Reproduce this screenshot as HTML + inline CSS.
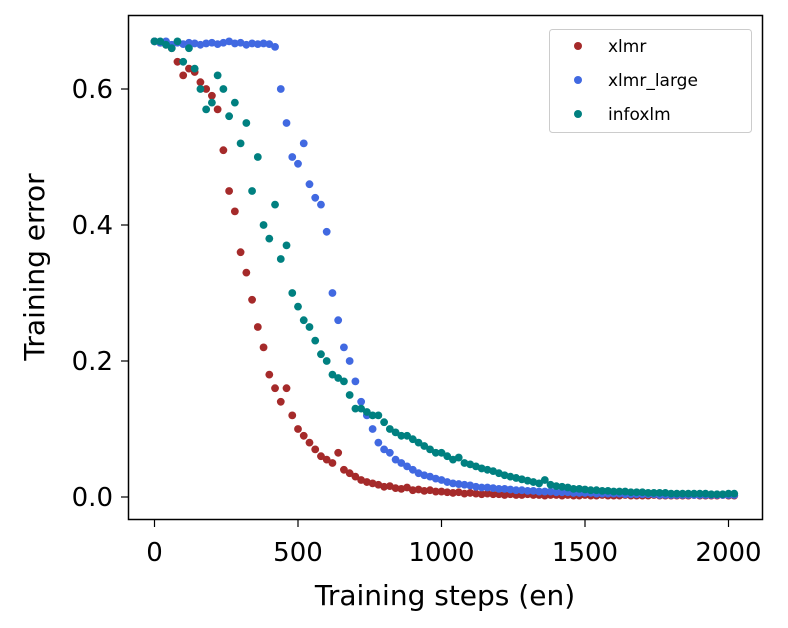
<!DOCTYPE html>
<html><head><meta charset="utf-8"><style>
body{margin:0;background:#fff;}
svg{display:block;font-family:"DejaVu Sans","Liberation Sans",sans-serif;}
</style></head><body>
<svg id="chart" width="788" height="628">
<g id="marks"></g>
<rect x="128.5" y="15.5" width="634" height="504" fill="none" stroke="#000" stroke-width="1.5"/>
<g id="axes"></g>
<text x="445" y="605" font-size="28" text-anchor="middle">Training steps (en)</text>
<text transform="translate(44,267) rotate(-90)" font-size="28" text-anchor="middle">Training error</text>
<g>
<rect x="549.5" y="29.5" width="202" height="103" rx="3" fill="#fff" stroke="#ccc"/>
<g><circle cx="578" cy="46" r="4" fill="#a52a2a"/><text x="608" y="52" font-size="17">xlmr</text></g>
<g><circle cx="578" cy="80" r="4" fill="#4169e1"/><text x="608" y="86" font-size="17">xlmr_large</text></g>
<g><circle cx="578" cy="114" r="4" fill="#008080"/><text x="608" y="120" font-size="17">infoxlm</text></g>
</g>
</svg>
<script>
const xlmr=[0.67,0.668,0.665,0.66,0.64,0.62,0.63,0.625,0.61,0.6,0.59,0.57,0.51,0.45,0.42,0.36,0.33,0.29,0.25,0.22,0.18,0.16,0.14,0.16,0.12,0.10,0.09,0.08,0.07,0.06,0.055,0.05,0.065,0.04,0.035,0.03,0.025,0.022,0.02,0.018,0.015,0.016,0.013,0.012,0.014,0.01,0.011,0.009,0.01,0.008,0.008,
0.007,0.006,0.007,0.005,0.006,0.005,0.004,0.005,0.004,0.004,0.003,0.004,0.003,0.003,0.004,0.003,0.003,0.002,0.003,0.003,0.002,0.003,0.002,0.002,0.003,0.002,0.002,0.003,0.002,0.002,0.002,0.003,0.002,0.002,0.002,0.002,0.003,0.002,0.002,0.002,0.002,0.002,0.002,0.003,0.002,0.002,0.002,0.002,0.003,0.002,0.002];
const xlmrLarge=[0.67,0.668,0.67,0.665,0.668,0.666,0.668,0.667,0.665,0.667,0.668,0.666,0.668,0.67,0.667,0.668,0.665,0.667,0.666,0.667,0.666,0.662,
0.6,0.55,0.5,0.49,0.52,0.46,0.44,0.43,0.39,0.3,0.26,0.22,0.2,0.17,0.14,0.12,0.1,0.08,0.07,0.065,0.055,0.05,0.045,0.04,0.035,0.032,0.03,0.027,0.025,
0.022,0.02,0.019,0.018,0.017,0.015,0.014,0.014,0.013,0.012,0.012,0.011,0.01,0.01,0.009,0.009,0.008,0.008,0.008,0.007,0.007,0.007,0.006,0.006,0.006,0.006,0.005,0.005,0.005,0.005,0.005,0.004,0.004,0.004,0.004,0.004,0.004,0.003,0.003,0.003,0.003,0.003,0.003,0.003,0.003,0.003,0.003,0.003,0.003,0.003,0.003];
const infoxlm=[0.67,0.67,0.665,0.66,0.67,0.64,0.66,0.63,0.6,0.57,0.58,0.62,0.6,0.56,0.58,0.52,0.55,0.45,0.5,0.4,0.38,0.43,0.35,0.37,0.3,0.28,0.26,0.25,0.23,0.21,0.2,0.18,0.175,0.17,0.15,0.13,0.13,0.125,0.12,0.12,0.11,0.1,0.095,0.09,0.09,0.085,0.08,0.075,0.07,0.065,0.065,0.06,0.055,0.058,0.05,0.048,0.045,0.042,0.04,0.038,0.035,0.032,0.03,0.028,0.026,0.024,0.022,0.02,0.025,0.018,0.016,0.015,0.014,0.012,0.012,0.011,0.01,0.01,0.009,0.009,0.008,
0.008,0.008,0.007,0.007,0.007,0.006,0.006,0.006,0.006,0.005,0.005,0.005,0.005,0.005,0.005,0.005,0.004,0.004,0.004,0.005,0.005];
const stepSize=20;
const xTicks=[0,500,1000,1500,2000];
const yTicks=[0.0,0.2,0.4,0.6];
const yTickLabels=["0.0","0.2","0.4","0.6"];

const NS="http://www.w3.org/2000/svg";
function xScale(v){return 154.5+v*(143.5/500);}
function yScale(v){return 497-v*(136/0.2);}
const marks=document.getElementById('marks');
function drawSeries(vals,color,name){
  const g=document.createElementNS(NS,'g');
  
  
  vals.forEach((v,i)=>{
    const c=document.createElementNS(NS,'circle');
    c.setAttribute('cx',xScale(i*stepSize));
    c.setAttribute('cy',yScale(v));
    c.setAttribute('r',3.9);
    c.setAttribute('fill',color);
    
    
    g.appendChild(c);
  });
  marks.appendChild(g);
}
drawSeries(xlmr,'#a52a2a','xlmr-series');
drawSeries(xlmrLarge,'#4169e1','xlmr-large-series');
drawSeries(infoxlm,'#008080','infoxlm-series');

const axes=document.getElementById('axes');
xTicks.forEach(t=>{
  const x=xScale(t);
  const l=document.createElementNS(NS,'line');
  l.setAttribute('x1',x);l.setAttribute('x2',x);l.setAttribute('y1',520);l.setAttribute('y2',527);
  l.setAttribute('stroke','#000');l.setAttribute('stroke-width','1.2');
  
  
  axes.appendChild(l);
  const tx=document.createElementNS(NS,'text');
  tx.setAttribute('x',x);tx.setAttribute('y',561);tx.setAttribute('font-size','26');tx.setAttribute('text-anchor','middle');
  
  
  tx.textContent=String(t);
  axes.appendChild(tx);
});
yTicks.forEach((t,i)=>{
  const y=yScale(t);
  const l=document.createElementNS(NS,'line');
  l.setAttribute('x1',121);l.setAttribute('x2',128);l.setAttribute('y1',y);l.setAttribute('y2',y);
  l.setAttribute('stroke','#000');l.setAttribute('stroke-width','1.2');
  
  
  axes.appendChild(l);
  const tx=document.createElementNS(NS,'text');
  tx.setAttribute('x',113);tx.setAttribute('y',y+9);tx.setAttribute('font-size','26');tx.setAttribute('text-anchor','end');
  
  
  tx.textContent=yTickLabels[i];
  axes.appendChild(tx);
});
</script>
</body></html>
